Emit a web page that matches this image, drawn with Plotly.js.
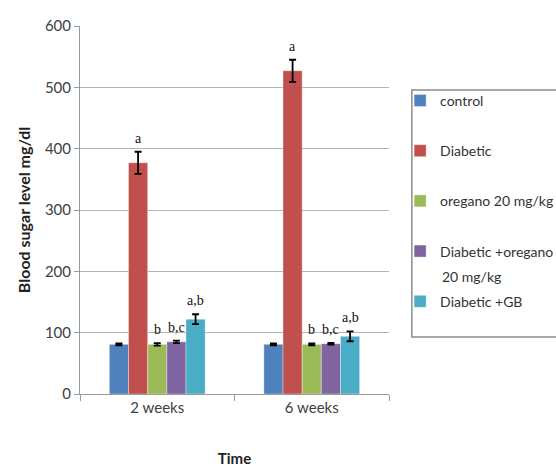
<!DOCTYPE html>
<html>
<head>
<meta charset="utf-8">
<script src="https://cdn.plot.ly/plotly-3.0.1.min.js"></script>
<style>html,body{margin:0;padding:0;background:#fff;}#chart{width:556px;height:468px;}</style>
</head>
<body>
<div id="chart"></div>
<script>
// ---- data ----
var categories = ['2 weeks', '6 weeks'];
var seriesNames = ['control', 'Diabetic', 'oregano 20 mg/kg', 'Diabetic +oregano', 'Diabetic +GB'];
var control = [81, 81];
var diabetic = [377, 527];
var oregano = [81, 81];
var diabOregano = [85, 82];
var diabGB = [122, 94];
var controlErr = [1.5, 1.5];
var diabeticErr = [18, 18];
var oreganoErr = [2, 1.5];
var diabOreganoErr = [2, 1.5];
var diabGBErr = [8, 8];
var controlLabels = ['', ''];
var diabeticLabels = ['a', 'a'];
var oreganoLabels = ['b', 'b'];
var diabOreganoLabels = ['b,c', 'b,c'];
var diabGBLabels = ['a,b', 'a,b'];
var colors = ['#4F81BD', '#C0504D', '#9BBB59', '#8064A2', '#4BACC6'];

var values = [control, diabetic, oregano, diabOregano, diabGB];
var errs = [controlErr, diabeticErr, oreganoErr, diabOreganoErr, diabGBErr];
var labels = [controlLabels, diabeticLabels, oreganoLabels, diabOreganoLabels, diabGBLabels];

var bargap = 0.38;
var nS = values.length;
var barW = (1 - bargap) / nS;

var traces = values.map(function (v, i) {
  return {
    type: 'bar', x: categories, y: v, name: seriesNames[i],
    legendgroup: 'g' + i,
    marker: {color: colors[i], line: {color: 'rgba(255,255,255,0.6)', width: 0.6}},
    error_y: {type: 'data', array: errs[i], visible: true, color: '#000', thickness: 1.8, width: 3.5},
    hoverinfo: 'y'
  };
});

var annotations = [];
values.forEach(function (v, i) {
  v.forEach(function (val, j) {
    if (!labels[i][j]) return;
    annotations.push({
      x: j + (i - (nS - 1) / 2) * barW, xref: 'x', y: val + errs[i][j], yref: 'y',
      text: labels[i][j], showarrow: false, yanchor: 'bottom', yshift: 4,
      font: {family: 'Liberation Serif, serif', size: 14, color: '#111'}
    });
  });
});
// second line of the wrapped legend entry
annotations.push({
  x: 1.165, xref: 'paper', y: 0.318, yref: 'paper', xanchor: 'left', yanchor: 'middle',
  text: '20 mg/kg', showarrow: false, font: {family: 'Lato, sans-serif', size: 14, color: '#333'}
});

var layout = {
  width: 556, height: 468,
  margin: {l: 80, r: 167, t: 26, b: 74, autoexpand: false},
  paper_bgcolor: '#fff', plot_bgcolor: '#fff',
  barmode: 'group', bargap: bargap, bargroupgap: 0,
  font: {family: 'Lato, sans-serif', size: 14, color: '#404040'},
  xaxis: {
    type: 'category', showline: true, linecolor: '#999', linewidth: 1,
    ticks: 'outside', tickson: 'boundaries', ticklen: 6, tickcolor: '#999',
    showgrid: false, tickfont: {size: 15, color: '#404040'},
    title: {text: '<b>Time</b>', font: {size: 15, color: '#222'}, standoff: 38}
  },
  yaxis: {
    range: [0, 600], dtick: 100, showline: true, linecolor: '#999', linewidth: 1,
    ticks: 'outside', ticklen: 5, tickcolor: '#999',
    showgrid: true, gridcolor: '#b3b3b3', gridwidth: 1, zeroline: false,
    tickfont: {size: 15, color: '#404040'},
    title: {text: '<b>Blood sugar level mg/dl</b>', font: {size: 16, color: '#222'}, standoff: 10}
  },
  showlegend: true,
  legend: {
    x: 1.036, xanchor: 'left', y: 0.84, yanchor: 'top',
    bgcolor: 'rgba(0,0,0,0)', borderwidth: 0,
    font: {family: 'Lato, sans-serif', size: 14, color: '#333'},
    tracegroupgap: 29, traceorder: 'grouped'
  },
  shapes: [{
    type: 'rect', xref: 'paper', yref: 'paper',
    x0: 1.074, x1: 1.6, y0: 0.155, y1: 0.826,
    line: {color: '#8c8c8c', width: 1.5}, fillcolor: 'rgba(0,0,0,0)'
  }],
  annotations: annotations
};

Plotly.newPlot('chart', traces, layout, {displayModeBar: false, staticPlot: true});
</script>
</body>
</html>
